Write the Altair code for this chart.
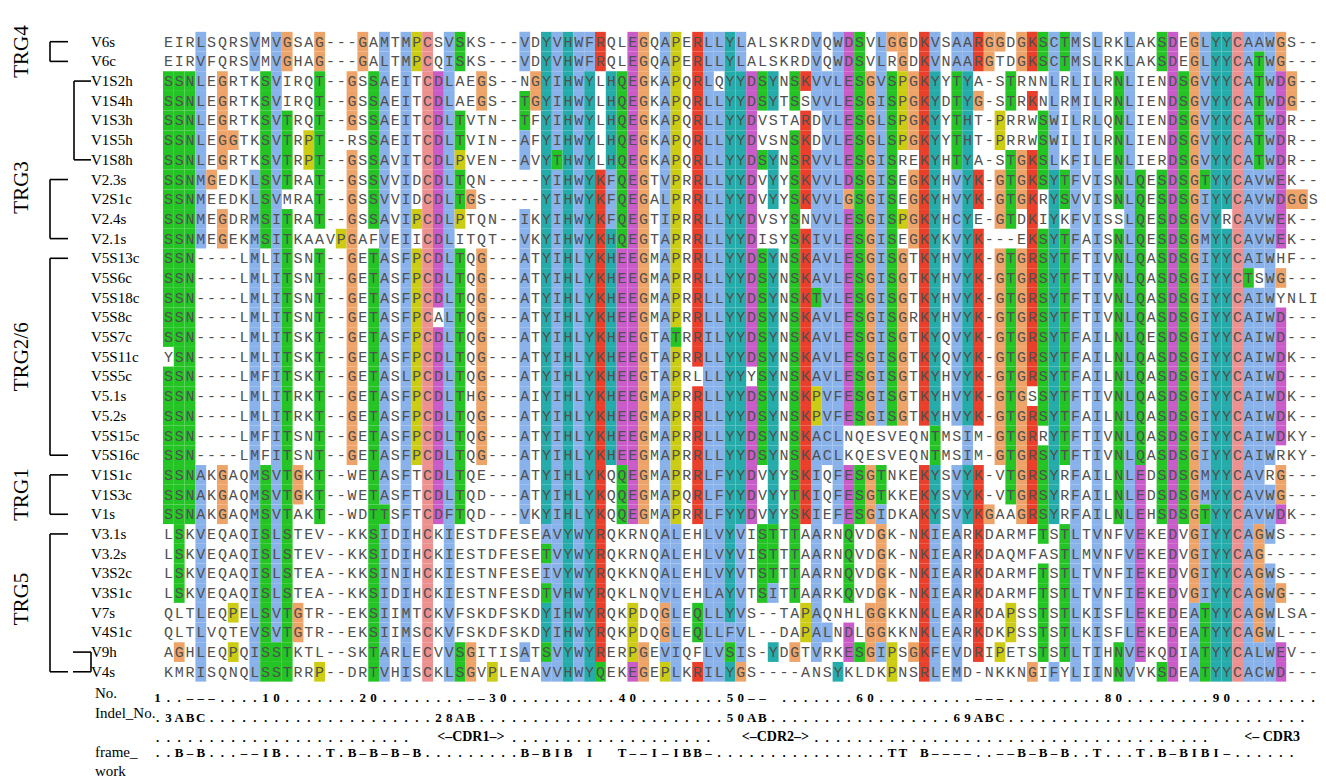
import altair as alt
import pandas as pd
from collections import Counter

names = ["V6s", "V6c", "V1S2h", "V1S4h", "V1S3h", "V1S5h", "V1S8h", "V2.3s", "V2S1c", "V2.4s", "V2.1s",
         "V5S13c", "V5S6c", "V5S18c", "V5S8c", "V5S7c", "V5S11c", "V5S5c", "V5.1s", "V5.2s", "V5S15c", "V5S16c",
         "V1S1c", "V1S3c", "V1s", "V3.1s", "V3.2s", "V3S2c", "V3S1c", "V7s", "V4S1c", "V9h", "V4s"]

seqs = [
    "EIRLSQRSVMVGSAG---GAMTMPCSVSKS---VDYVHWFRQLEGQAPERLLYLALSKRDVQWDSVLGGDKVSAARGGDGKSCTMSLRKLAKSDEGLYYCAAWGS--",
    "EIRVFQRSVMVGHAG---GALTMPCQISKS---VDYVHWFRQLEGQAPERLLYLALSKRDVQWDSVLRGDKVNAARGTDGKSCTMSLRKLAKSDEGLYYCATWG---",
    "SSNLEGRTKSVIRQT--GSSAEITCDLAEGS--NGYIHWYLHQEGKAPQRLQYYDSYNSKVVLESGVSPGKYYTYA-STRNNLRLILRNLIENDSGVYYCATWDG--",
    "SSNLEGRTKSVIRQT--GSSAEITCDLAEGS--TGYIHWYLHQEGKAPQRLLYYDSYTSSVVLESGISPGKYDTYG-STRKNLRMILRNLIENDSGVYYCATWDG--",
    "SSNLEGRTKSVTRQT--GSSAEITCDLTVTN--TFYIHWYLHQEGKAPQRLLYYDVSTARDVLESGLSPGKYYTHT-PRRWSWILRLQNLIENDSGVYYCATWDR--",
    "SSNLEGGTKSVTRPT--RSSAEITCDLTVIN--AFYIHWYLHQEGKAPQRLLYYDVSNSKDVLESGLSPGKYYTHT-PRRWSWILILRNLIENDSGVYYCATWDR--",
    "SSNLEGRTKSVTRPT--GSSAVITCDLPVEN--AVYTHWYLHQEGKAPQRLLYYDSYNSRVVLESGISREKYHTYA-STGKSLKFILENLIERDSGVYYCATWDR--",
    "SSNMGEDKLSVTRAT--GSSVVIDCDLTQN-----YIHWYKFQEGTVPRRLLYYDVYYSKVVLDSGISEGKYHVYK-GTGKSYTFVISNLQESDSGTYYCAVWEK--",
    "SSNMEEDKLSVMRAT--GSSVVIDCDLTGS-----YIHWYKFQEGALPRRLLYYDVYYSKVVLGSGISEGKYHVYK-GTGKRYSVVISNLQESDSGIYYCAVWDGGS",
    "SSNMEGDRMSITRAT--GSSAVIPCDLPTQN--IKYIHWYKFQEGTIPRRLLYYDVSYSNVVLESGISPGKYHCYE-GTDKIYKFVISSLQESDSGVYRCAVWEK--",
    "SSNMEGEKMSITKAAVPGAFVEIICDLITQT--VKYIHWYKHQEGTAPRRLLYYDISYSKIVLESGISEGKYKVYK---EKSYTFAISNLQESDSGMYYCAVWEK--",
    "SSN----LMLITSNT--GETASFPCDLTQG---ATYIHLYKHEEGMAPRRLLYYDSYNSKAVLESGISGTKYHVYK-GTGRSYTFTIVNLQASDSGIYYCAIWHF--",
    "SSN----LMLITSNT--GETASFPCDLTQG---ATYIHLYKHEEGMAPRRLLYYDSYNSKAVLESGISGTKYHVYK-GTGRSYTFTIVNLQASDSGIYYCTSWG---",
    "SSN----LMLITSNT--GETASFPCDLTQG---ATYIHLYKHEEGMAPRRLLYYDSYNSKTVLESGISGTKYHVYK-GTGRSYTFTIVNLQASDSGIYYCAIWYNLI",
    "SSN----LMLITSNT--GETASFPCALTQG---ATYIHLYKHEEGMAPRRLLYYDSYNSKAVLESGISGRKYHVYK-GTGRSYTFTIVNLQASDSGIYYCAIWD---",
    "SSN----LMLITSKT--GETASFPCDLTQG---ATYIHLYKHEEGTATRRILYYDSYNSKAVLESGISGTKYQVYK-GTGRSYTFAILNLQESDSGIYYCAIWD---",
    "YSN----LMLITSKT--GETASFPCDLTQG---ATYIHLYKHEEGTAPRRLLYYDSYNSKAVLESGISGTKYQVYK-GTGRSYTFAILNLQASDSGIYYCAIWDK--",
    "SSN----LMFITSKT--GETASLPCDLTQG---ATYIHLYKHEEGTAPRLLLYYYSYNSKAVLESGISGTKYHVYK-GTGRSYTFAILNLQASDSGIYYCAIWD---",
    "SSN----LMLITRKT--GETASFPCDLTHG---AIYIHLYKHEEGMAPRRLLYYDSYNSKPVFESGISGTKYHVYK-GTGSSYTFTIVNLQASDSGIYYCAIWDK--",
    "SSN----LMLITRKT--GETASFPCDLTQG---ATYIHLYKHEEGMAPRRLLYYDSYNSKPVFESGISGTKYHVYK-GTGRSYTFAILNLQASDSGIYYCAIWDK--",
    "SSN----LMFITSNT--GETASFPCDLTQG---ATYIHLYKHEEGMAPRRLLYYDSYNSKACLNQESVEQNTMSIM-GTGRRYTFTIVNLQASDSGIYYCAIWDKY-",
    "SSN----LMFITSNT--GETASFPCDLTQG---ATYIHLYKHEEGMAPRRLLYYDSYNSKACLKQESVEQNTMSIM-GTGRSYTFTIVNLQASDSGIYYCAIWRKY-",
    "SSNAKGAQMSVTGKT--WETASFTCDLTQE---ATYIHLYKQQEGMAPRRLFYYDVYYSKIQFESGTNKEKYSVYK-VTGRSYRFAILNLEDSDSGMYYCAVRG---",
    "SSNAKGAQMSVTGKT--WETASFTCDLTQD---ATYIHLYKQQEGMAPQRLFYYDVYYTKIQFESGTKKEKYSVYK-VTGRSYRFAILNLEDSDSGMYYCAVWG---",
    "SSNAKGAQMSVTAKT--WDTTSFTCDFTQD---VKYIHLYKQQEGMAPRRLFYYDVYYSKIEFESGIDKAKYSVYKGAAGRSYRFAILNLEHSDSGTYYCAVWDK--",
    "LSKVEQAQISLSTEV--KKSIDIHCKIESTDFESEAVYWYRQKRNQALEHLVYVISTTTAARNQVDGK-NKIEARKDARMFTSTLTVNFVEKEDVGIYYCAGWS---",
    "LSKVEQAQISLSTEV--KKSIDIHCKIESTDFESETVYWYRQKRNQALEHLVYVISTTTAARNQVDGK-NKIEARKDAQMFASTLMVNFVEKEDVGIYYCAG-----",
    "LSKVEQAQISLSTEA--KKSINIHCKIESTNFESEIVYWYRQKKNQALEHLVYVTSTTTAARNQVDGK-NKIEARKDARMFTSTLTVNFIEKEDVGIYYCAGWS---",
    "LSKVEQAQISLSTEA--KKSIDIHCKIESTNFESDTVHWYRQKLNQVLEHLAYVTSITTAARKQVDGK-NKIEARKDARMFTSTLTVNFIEKEDVGIYYCAGWG---",
    "QLTLEQPELSVTGTR--EKSIIMTCKVFSKDFSKDYIHWYRQKPDQGLEQLLYVS--TAPAQNHLGGKKNKLEARKDAPSSTSTLKISFLEKEDEATYYCAGWLSA-",
    "QLTLVQTEVSVTGTR--EKSIIMSCKVFSKDFSKDYIHWYRQKPDQGLEQLLFVL--DAPALNDLGGKKNKLEARKDKPSSTSTLKISFLEKEDEATYYCAGWL---",
    "AGHLEQPQISSTKTL--SKTARLECVVSGITISATSVYWYRERPGEVIQFLVSIS-YDGTVRKESGIPSGKFEVDRIPETSTSTLTIHNVEKQDIATYYCALWEV--",
    "KMRISQNQLSSTRRP--DRTVHISCKLSGVPLENAVVHWYQEKEGEPLKRILYGS----ANSYKLDKPNSRLEMD-NKKNGIFYLIINNVVKSDEATYYCACWD---",
]

group_names = ["TRG4", "TRG3", "TRG2/6", "TRG1", "TRG5"]
group_first = [1, 8, 12, 23, 26]
group_last = [2, 11, 22, 25, 33]
group_label_row = [1.5, 8.4, 17.0, 24.0, 29.3]

footer_no = "1..---....10.......20........--30..........40........50-- .......60.........---.........80........90........"
footer_indel = ".3ABC.....................28AB.......................50AB.................69ABC............................ "
footer_cdr = "........................         ...................         .....................................        "
footer_frame = "..B-B...--IB....T.B-B-B-B.........B-BIB I  T--I-IBB-................TT B----..--B-B-B..T...T.B-BIBI-......"
cdr_labels = ["<\u2013CDR1\u2013>", "<\u2013CDR2\u2013>", "<\u2013 CDR3"]
cdr_centers = [29.0, 57.2, 103.2]

NCOL = 107
seqs = [(s + "-" * NCOL)[:NCOL] for s in seqs]

# ---- ClustalX colouring derived from column composition ----
HYD = set("WLVIMAFCYHP")
PAL = {"blue": "#8ab2ea", "red": "#ea3f2a", "green": "#24c424", "pink": "#ec9090",
       "magenta": "#c95cc9", "orange": "#eea468", "cyan": "#26abab", "yellow": "#cccc14"}


def flags(column):
    n = len(column)
    cnt = Counter(column)

    def pct(chars):
        return 100.0 * sum(cnt[c] for c in chars) / n

    f = set()
    if pct(HYD) > 60: f.add("%")
    if pct(HYD) > 80: f.add("#")
    if pct("ED") > 50: f.add("-")
    if pct("KR") > 60: f.add("+")
    if pct("G") > 50: f.add("g")
    if pct("N") > 50: f.add("n")
    if pct("QE") > 50: f.add("q")
    if pct("P") > 50: f.add("p")
    if pct("TS") > 50: f.add("t")
    for aa in "ACDEFGHIKLMNPQRSTVWY":
        if pct(aa) > 85: f.add(aa)
    return f


HYDC = set("%#ACFHILMVWYPp")
RULES = {
    "A": [("blue", HYDC | set("TSG"))],
    "I": [("blue", HYDC)], "L": [("blue", HYDC)], "M": [("blue", HYDC)],
    "F": [("blue", HYDC)], "W": [("blue", HYDC)], "V": [("blue", HYDC)],
    "C": [("pink", set("C")), ("blue", set("%#AFHILMVWYSPp"))],
    "K": [("red", set("+KRQ"))], "R": [("red", set("+KRQ"))],
    "E": [("magenta", set("-DEqQ"))], "D": [("magenta", set("-DEnN"))],
    "N": [("green", set("nND"))], "Q": [("green", set("qQE+KR"))],
    "S": [("green", set("tST#"))], "T": [("green", set("tST%#"))],
    "H": [("cyan", HYDC)], "Y": [("cyan", HYDC)],
}

col_flags = [flags([s[c] for s in seqs]) for c in range(NCOL)]


def colour_of(ch, f):
    if ch == "G":
        return PAL["orange"]
    if ch == "P":
        return PAL["yellow"]
    for name, cond in RULES.get(ch, []):
        if f & cond:
            return PAL[name]
    return None


cells = []
for r, s in enumerate(seqs, start=1):
    for c, ch in enumerate(s, start=1):
        cells.append({"row": r, "col": c, "res": ch, "fill": colour_of(ch, col_flags[c - 1])})
df = pd.DataFrame(cells)
df["x0"] = df["col"] - 0.5
df["x1"] = df["col"] + 0.5
df["y0"] = df["row"] - 0.5
df["y1"] = df["row"] + 0.5
dfc = df[df["fill"].notna()]

# ---- layout (pixel -> data unit helpers) ----
W, H = 1310, 770
PX_COL = 10.8
PX_ROW = 19.69


def px_to_col(x):
    return (x - 157.6) / PX_COL


def py_to_row(y):
    return (y - 22.01) / PX_ROW


XD = [px_to_col(8), px_to_col(8 + W)]
YD = [py_to_row(8), py_to_row(8 + H)]
xs = alt.Scale(domain=XD, nice=False, zero=False)
ys = alt.Scale(domain=YD, nice=False, zero=False, reverse=True)


def X(f):
    return alt.X(f, type="quantitative", scale=xs, axis=None)


def Y(f):
    return alt.Y(f, type="quantitative", scale=ys, axis=None)


rects = alt.Chart(dfc).mark_rect(strokeWidth=0).encode(
    x=X("x0"), x2="x1", y=Y("y0"), y2="y1",
    color=alt.Color("fill:N", scale=None))

letters = alt.Chart(df).mark_text(font="Liberation Mono", fontSize=15, color="#505050",
                                  baseline="middle", align="center").encode(
    x=X("col"), y=Y("row"), text="res:N")

lab_df = pd.DataFrame({"name": names, "row": list(range(1, len(names) + 1))})
lab_df["x"] = px_to_col(91)
labels = alt.Chart(lab_df).mark_text(font="Liberation Serif", fontSize=15, color="black",
                                     align="left", baseline="middle").encode(
    x=X("x"), y=Y("row"), text="name:N")

grp_df = pd.DataFrame({"g": group_names, "mid": group_label_row})
grp_df["x"] = px_to_col(22)
groups = alt.Chart(grp_df).mark_text(font="Liberation Serif", fontSize=21, color="black",
                                     angle=270, align="center", baseline="middle").encode(
    x=X("x"), y=Y("mid"), text="g:N")

# brackets
segs = []
xv, xa = px_to_col(50), px_to_col(68)
for a, b in zip(group_first, group_last):
    segs.append({"x": xv, "x2": xv, "y": a, "y2": b})
    segs.append({"x": xv, "x2": xa, "y": a, "y2": a})
    segs.append({"x": xv, "x2": xa, "y": b, "y2": b})
# inner bracket for V1S*h rows
xi, xi2 = px_to_col(74), px_to_col(91)
segs += [{"x": xi, "x2": xi, "y": 3, "y2": 7},
         {"x": xi, "x2": xi2, "y": 3, "y2": 3},
         {"x": xi, "x2": xi2, "y": 7, "y2": 7}]
# inner bracket V9h / V4s
xr, xr0 = px_to_col(91), px_to_col(73)
segs += [{"x": xr, "x2": xr, "y": 32, "y2": 33},
         {"x": xr0, "x2": xr, "y": 32, "y2": 32},
         {"x": xr0, "x2": xr, "y": 33, "y2": 33}]
seg_df = pd.DataFrame(segs)
brackets = alt.Chart(seg_df).mark_rule(color="black", strokeWidth=1.6).encode(
    x=X("x"), x2="x2", y=Y("y"), y2="y2")

# footer
foot_rows = [(footer_no, py_to_row(698)), (footer_indel, py_to_row(718)),
             (footer_cdr, py_to_row(738)), (footer_frame, py_to_row(753))]
fchars = []
for s, rr in foot_rows:
    for i, ch in enumerate(s):
        if ch != " ":
            fchars.append({"col": i, "row": rr, "t": ch.replace("-", "\u2013")})
fdf = pd.DataFrame(fchars)
footer = alt.Chart(fdf).mark_text(font="Liberation Serif", fontSize=13, fontWeight="bold",
                                  color="black", align="center", baseline="middle").encode(
    x=X("col"), y=Y("row"), text="t:N")

cdr_df = pd.DataFrame({"t": cdr_labels, "col": cdr_centers})
cdr_df["row"] = py_to_row(737)
cdr = alt.Chart(cdr_df).mark_text(font="Liberation Serif", fontSize=14, fontWeight="bold",
                                  color="black", align="center", baseline="middle").encode(
    x=X("col"), y=Y("row"), text="t:N")

flab_df = pd.DataFrame({"t": ["No.", "Indel_No.", "frame_", "work"],
                        "row": [py_to_row(693), py_to_row(713), py_to_row(752), py_to_row(771)]})
flab_df["x"] = px_to_col(95)
flabels = alt.Chart(flab_df).mark_text(font="Liberation Serif", fontSize=15, color="black",
                                       align="left", baseline="middle").encode(
    x=X("x"), y=Y("row"), text="t:N")

chart = alt.layer(rects, letters, labels, groups, brackets, footer, cdr, flabels).properties(
    width=W, height=H, autosize=alt.AutoSizeParams(type="none"), padding=0
).configure_view(stroke=None)

chart.save("out.html", embed_options={"renderer": "svg", "actions": False})
